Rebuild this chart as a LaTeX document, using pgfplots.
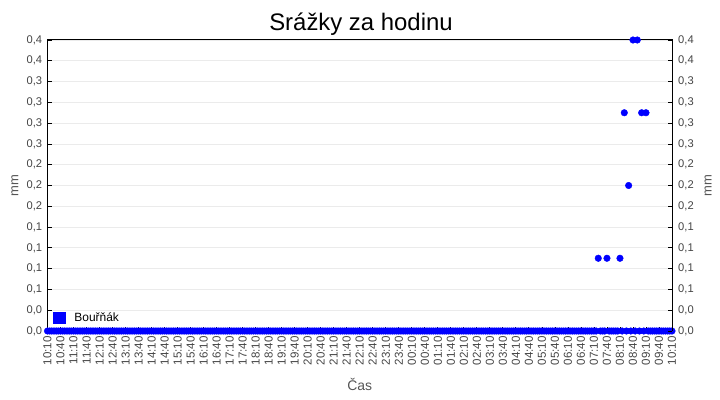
\documentclass[border=0pt]{standalone}
\usepackage{pgfplots}
\pgfplotsset{compat=1.18}
\usepackage{fontspec}
\setmainfont{Liberation Sans}
\definecolor{tickgray}{HTML}{444444}
\definecolor{labgray}{HTML}{555555}
\definecolor{gridgray}{HTML}{EBEBEB}
\definecolor{ptblue}{RGB}{0,0,255}
\begin{document}
\begin{tikzpicture}
\useasboundingbox (0,0) rectangle (720bp,400bp);
\pgfplotsset{
  common/.style={
    scale only axis, width=624.5bp, height=291bp,
    at={(47.5bp,69bp)}, anchor=south west,
    xmin=0, xmax=1440, ymin=0, ymax=0.4,
    ytick={0,0.0285714,0.0571429,0.0857143,0.1142857,0.1428571,0.1714286,0.2,0.2285714,0.2571429,0.2857143,0.3142857,0.3428571,0.3714286,0.4},
    yticklabels={{0,0},{0,0},{0,1},{0,1},{0,1},{0,1},{0,2},{0,2},{0,2},{0,3},{0,3},{0,3},{0,3},{0,4},{0,4}},
    tick align=inside, major tick length=4bp,
    tick style={black, line width=0.8bp},
    ylabel={mm},
    ylabel style={font=\fontsize{13}{15}\selectfont, text=labgray},
  }
}
\begin{axis}[common,
  axis line style={black, line width=1bp},
  clip=false,
  ytick pos=left,
  xtick pos=bottom,
  yticklabel style={font=\fontsize{11.2}{13}\selectfont, text=tickgray, inner xsep=5.2bp},
  xtick={0,30,...,1440},
  xticklabels={10:10,10:40,11:10,11:40,12:10,12:40,13:10,13:40,14:10,14:40,15:10,15:40,16:10,16:40,17:10,17:40,18:10,18:40,19:10,19:40,20:10,20:40,21:10,21:40,22:10,22:40,23:10,23:40,00:10,00:40,01:10,01:40,02:10,02:40,03:10,03:40,04:10,04:40,05:10,05:40,06:10,06:40,07:10,07:40,08:10,08:40,09:10,09:40,10:10},
  xticklabel style={rotate=90, anchor=east, font=\fontsize{11.6}{13}\selectfont, text=tickgray, inner xsep=5bp, inner ysep=1bp},
  ymajorgrids, grid style={gridgray, line width=0.8bp},
  ylabel style={at={(axis description cs:-0.0468,0.5)}, anchor=base},
  xlabel={Čas},
  xlabel style={at={(axis description cs:0.5,-0.206)}, anchor=base, font=\fontsize{14}{16}\selectfont, text=labgray},
  legend style={at={(axis description cs:0.0045,0.012)}, anchor=south west, draw=none, fill=none,
    font=\fontsize{12}{14}\selectfont, legend cell align=left},
  legend image code/.code={\fill[ptblue] (0bp,-5.5bp) rectangle (12bp,5.5bp); \path (18.5bp,0bp);},
]
\addplot[only marks, mark=*, mark size=3.3bp, ptblue, mark options={draw=ptblue, fill=ptblue}] coordinates {
(0,0)(5,0)(10,0)(15,0)(20,0)(25,0)(30,0)(35,0)(40,0)(45,0)(50,0)(55,0)
(60,0)(65,0)(70,0)(75,0)(80,0)(85,0)(90,0)(95,0)(100,0)(105,0)(110,0)(115,0)
(120,0)(125,0)(130,0)(135,0)(140,0)(145,0)(150,0)(155,0)(160,0)(165,0)(170,0)(175,0)
(180,0)(185,0)(190,0)(195,0)(200,0)(205,0)(210,0)(215,0)(220,0)(225,0)(230,0)(235,0)
(240,0)(245,0)(250,0)(255,0)(260,0)(265,0)(270,0)(275,0)(280,0)(285,0)(290,0)(295,0)
(300,0)(305,0)(310,0)(315,0)(320,0)(325,0)(330,0)(335,0)(340,0)(345,0)(350,0)(355,0)
(360,0)(365,0)(370,0)(375,0)(380,0)(385,0)(390,0)(395,0)(400,0)(405,0)(410,0)(415,0)
(420,0)(425,0)(430,0)(435,0)(440,0)(445,0)(450,0)(455,0)(460,0)(465,0)(470,0)(475,0)
(480,0)(485,0)(490,0)(495,0)(500,0)(505,0)(510,0)(515,0)(520,0)(525,0)(530,0)(535,0)
(540,0)(545,0)(550,0)(555,0)(560,0)(565,0)(570,0)(575,0)(580,0)(585,0)(590,0)(595,0)
(600,0)(605,0)(610,0)(615,0)(620,0)(625,0)(630,0)(635,0)(640,0)(645,0)(650,0)(655,0)
(660,0)(665,0)(670,0)(675,0)(680,0)(685,0)(690,0)(695,0)(700,0)(705,0)(710,0)(715,0)
(720,0)(725,0)(730,0)(735,0)(740,0)(745,0)(750,0)(755,0)(760,0)(765,0)(770,0)(775,0)
(780,0)(785,0)(790,0)(795,0)(800,0)(805,0)(810,0)(815,0)(820,0)(825,0)(830,0)(835,0)
(840,0)(845,0)(850,0)(855,0)(860,0)(865,0)(870,0)(875,0)(880,0)(885,0)(890,0)(895,0)
(900,0)(905,0)(910,0)(915,0)(920,0)(925,0)(930,0)(935,0)(940,0)(945,0)(950,0)(955,0)
(960,0)(965,0)(970,0)(975,0)(980,0)(985,0)(990,0)(995,0)(1000,0)(1005,0)(1010,0)(1015,0)
(1020,0)(1025,0)(1030,0)(1035,0)(1040,0)(1045,0)(1050,0)(1055,0)(1060,0)(1065,0)(1070,0)(1075,0)
(1080,0)(1085,0)(1090,0)(1095,0)(1100,0)(1105,0)(1110,0)(1115,0)(1120,0)(1125,0)(1130,0)(1135,0)
(1140,0)(1145,0)(1150,0)(1155,0)(1160,0)(1165,0)(1170,0)(1175,0)(1180,0)(1185,0)(1190,0)(1195,0)
(1200,0)(1205,0)(1210,0)(1215,0)(1220,0)(1225,0)(1230,0)(1235,0)(1240,0)(1245,0)(1250,0)(1255,0)
(1260,0)(1265,0)(1270,0.1)(1275,0)(1280,0)(1285,0)(1290,0.1)(1295,0)(1300,0)(1305,0)(1310,0)(1315,0)
(1320,0.1)(1325,0)(1330,0.3)(1335,0)(1340,0.2)(1345,0)(1350,0.4)(1355,0)(1360,0.4)(1365,0)(1370,0.3)(1375,0)
(1380,0.3)(1385,0)(1390,0)(1395,0)(1400,0)(1405,0)(1410,0)(1415,0)(1420,0)(1425,0)(1430,0)(1435,0)
(1440,0)
};
\addlegendentry{Bouřňák}
\end{axis}
\begin{axis}[common,
  axis y line*=right,
  axis line style={black, line width=1bp},
  hide x axis,
  yticklabel style={font=\fontsize{11.2}{13}\selectfont, text=tickgray, inner xsep=6bp},
  ylabel style={at={(axis description cs:1.0636,0.5)}, anchor=base},
]
\end{axis}
\node[anchor=base, font=\fontsize{24}{28}\selectfont] at (361bp,369.5bp) {Srážky za hodinu};
\end{tikzpicture}
\end{document}
